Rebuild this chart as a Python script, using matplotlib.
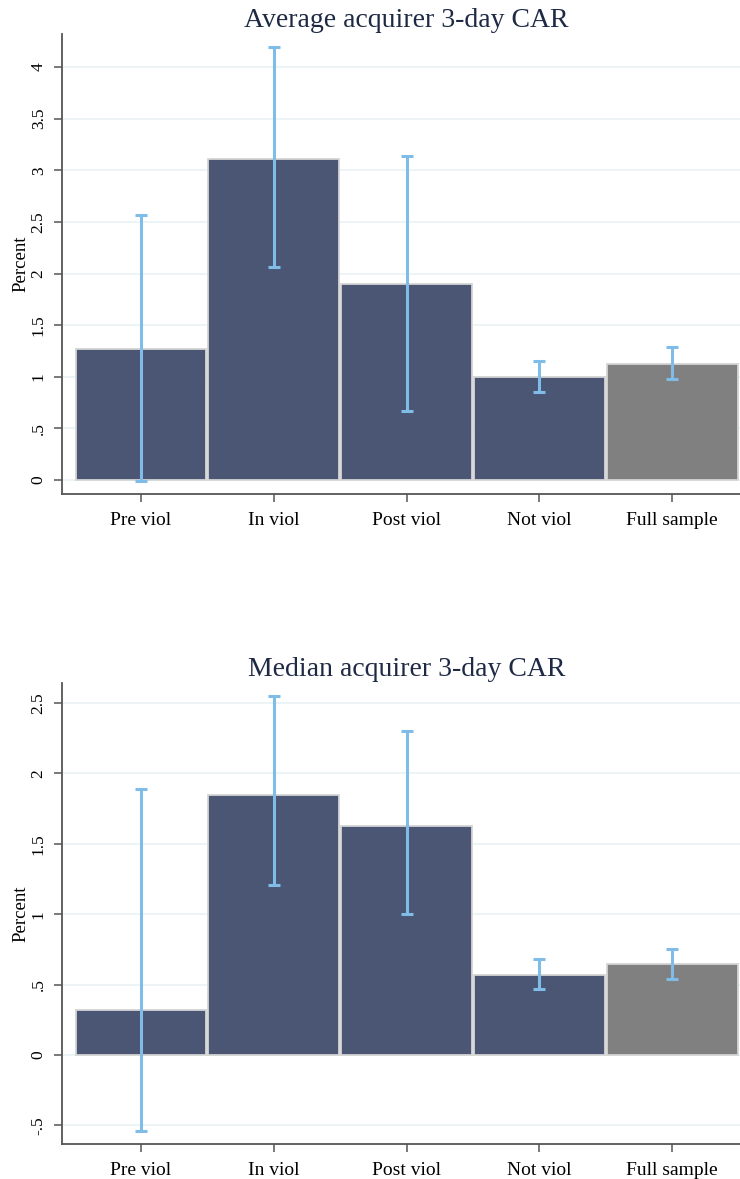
import numpy as np
import matplotlib
matplotlib.use("Agg")
import matplotlib.pyplot as plt

plt.rcParams['font.family'] = ['Liberation Serif', 'DejaVu Serif']

groups = ["Pre viol", "In viol", "Post viol", "Not viol", "Full sample"]

avg_car = [1.268, 3.113, 1.897, 0.997, 1.123]
avg_lo = [-0.013, 2.06, 0.665, 0.849, 0.981]
avg_hi = [2.565, 4.19, 3.14, 1.158, 1.284]

med_car = [0.322, 1.847, 1.629, 0.568, 0.644]
med_lo = [-0.54, 1.207, 0.999, 0.467, 0.542]
med_hi = [1.887, 2.55, 2.30, 0.68, 0.751]

bar_col = ["#4b5674"] * 4 + ["#808080"]
ci_col = "#7fbde8"
grid_col = "#eaf2f3"
spine_col = "#555555"


def panel(ax, title, vals, lo, hi, ylim, yticks, ylabels):
    x = np.arange(len(groups))
    ax.set_axisbelow(True)
    ax.grid(axis='y', color=grid_col, linewidth=1.2)
    ax.bar(x, vals, width=0.985, color=bar_col, edgecolor="#d4d4d4", linewidth=1.3, zorder=2)
    vals = np.array(vals)
    err = [vals - np.array(lo), np.array(hi) - vals]
    ax.errorbar(x, vals, yerr=err, fmt='none', ecolor=ci_col, elinewidth=2.2,
                capsize=4.5, capthick=2.2, zorder=3)
    ax.set_xlim(-0.595, 4.51)
    ax.set_ylim(*ylim)
    ax.set_yticks(yticks)
    ax.set_yticklabels(ylabels, rotation=90, va='center', fontsize=12.5)
    ax.set_xticks(x)
    ax.set_xticklabels(groups, fontsize=14)
    ax.set_ylabel("Percent", fontsize=13.5, labelpad=1)
    ax.set_title(title, fontsize=20, color="#1e2a44", pad=5, x=0.508)
    for s in ['top', 'right']:
        ax.spines[s].set_visible(False)
    for s in ['left', 'bottom']:
        ax.spines[s].set_color(spine_col)
        ax.spines[s].set_linewidth(1.3)
    ax.tick_params(axis='both', colors=spine_col, labelcolor='black', length=6, width=1.1)
    ax.tick_params(axis='x', pad=6.5)
    ax.tick_params(axis='y', pad=5)


fig = plt.figure(figsize=(7.4, 11.79), dpi=100)
ax1 = fig.add_axes([0.0838, 0.5807, 0.916, 0.3905])
ax2 = fig.add_axes([0.0838, 0.0294, 0.916, 0.391])

panel(ax1, "Average acquirer 3-day CAR", avg_car, avg_lo, avg_hi, (-0.138, 4.32),
      [0, 0.5, 1, 1.5, 2, 2.5, 3, 3.5, 4], ["0", ".5", "1", "1.5", "2", "2.5", "3", "3.5", "4"])
panel(ax2, "Median acquirer 3-day CAR", med_car, med_lo, med_hi, (-0.634, 2.64),
      [-0.5, 0, 0.5, 1, 1.5, 2, 2.5], ["-.5", "0", ".5", "1", "1.5", "2", "2.5"])

fig.savefig("out.png", dpi=100)
